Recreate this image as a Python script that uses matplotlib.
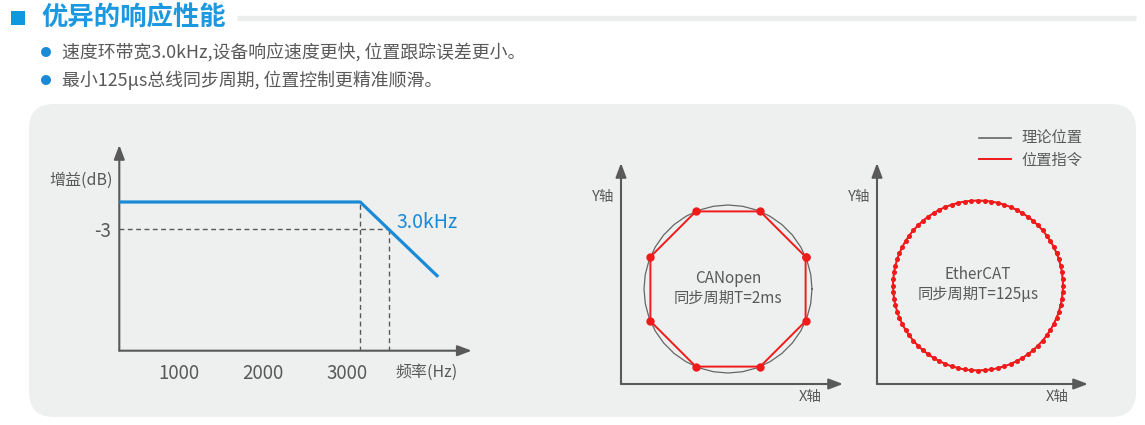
import numpy as np
import matplotlib
matplotlib.use('Agg')
import matplotlib.pyplot as plt
from matplotlib.patches import FancyBboxPatch, Rectangle, Circle
from matplotlib.lines import Line2D

plt.rcParams['font.family'] = ['Noto Sans CJK SC', 'DejaVu Sans']

# ---- data ----
title = '优异的响应性能'
bullets = ['速度环带宽3.0kHz,设备响应速度更快, 位置跟踪误差更小。',
           '最小125μs总线同步周期, 位置控制更精准顺滑。']

freq_hz = [287, 3160, 4090]     # bode magnitude (straight line approx.)
gain_db = [0, 0, -8.4]
cutoff_hz, cutoff_db = 3500, -3
freq_ticks = [1000, 2000, 3000]
freq_ticklabels = ['1000', '2000', '3000']

canopen_points = 8       # samples per revolution, T=2ms
ethercat_points = 80     # samples per revolution, T=125us
theory_segments = 36
start_angle_deg = 22.5
radius = 1.0

legend_labels = ['理论位置', '位置指令']

# ---- style ----
W, H = 1145, 425
GRAY = '#595959'
BLUE = '#1a8ad6'
TITLE_BLUE = '#1b98e0'
RED = '#f01a1a'
PANEL = '#eeefef'

fig = plt.figure(figsize=(W / 100, H / 100), dpi=100)
fig.patch.set_facecolor('white')

# background axes in pixel coordinates
bg = fig.add_axes([0, 0, 1, 1], zorder=0)
bg.set_xlim(0, W)
bg.set_ylim(H, 0)
bg.axis('off')

bg.add_patch(Rectangle((11, 11), 14, 14, color='#0f97df', lw=0))
bg.text(41, 18, title, fontsize=19, color=TITLE_BLUE, va='center', ha='left',
        fontweight='bold')
bg.plot([237, 1136], [17.5, 17.5], color='#eceeee', lw=3.8, solid_capstyle='butt')
for i, t in enumerate(bullets):
    y = 52 + 28 * i
    bg.add_patch(Circle((46, y), 5, color='#1a8ad6', lw=0))
    bg.text(62, y, t, fontsize=12.9, color=GRAY, va='center', ha='left')

bg.add_patch(FancyBboxPatch((29 + 25, 104 + 25), 1107 - 50, 313 - 50,
                            boxstyle='round,pad=25', color=PANEL, lw=0))


def px_axes(x0, y0, x1, y1):
    ax = fig.add_axes([x0 / W, 1 - y1 / H, (x1 - x0) / W, (y1 - y0) / H], zorder=2)
    ax.patch.set_visible(False)
    for s in ax.spines.values():
        s.set_visible(False)
    arrow = dict(arrowstyle='-|>,head_length=0.85,head_width=0.32', color=GRAY,
                 lw=1.5, shrinkA=0, shrinkB=0)
    ax.annotate('', xy=(0, 1), xytext=(0, 0), xycoords='axes fraction', arrowprops=arrow)
    ax.annotate('', xy=(1, 0), xytext=(0, 0), xycoords='axes fraction', arrowprops=arrow)
    return ax


# ---- left: frequency response ----
ax1 = px_axes(119.3, 145, 471.7, 350.7)
ax1.set_xlim(287, 4490)
ax1.set_ylim(-16.7, 6.4)
dash = (0, (3.5, 2.5))
ax1.plot(freq_hz, gain_db, color=BLUE, lw=2.3, solid_capstyle='butt', zorder=3)
ax1.plot([freq_hz[0], cutoff_hz], [cutoff_db, cutoff_db], color=GRAY, lw=1, ls=dash)
ax1.plot([freq_hz[1], freq_hz[1]], [-16.7, gain_db[1]], color=GRAY, lw=1, ls=dash)
ax1.plot([cutoff_hz, cutoff_hz], [-16.7, cutoff_db], color=GRAY, lw=1, ls=dash)
ax1.set_xticks(freq_ticks)
ax1.set_xticklabels(freq_ticklabels, fontsize=13.5, color=GRAY)
ax1.set_yticks([cutoff_db])
ax1.set_yticklabels(['-3'], fontsize=13.5, color=GRAY)
ax1.tick_params(axis='x', length=0, pad=9)
ax1.tick_params(axis='y', length=0, pad=6)
bg.text(427, 372, '频率(Hz)', fontsize=11.5, color=GRAY, ha='center', va='center')
bg.text(81, 180, '增益(dB)', fontsize=11.5, color=GRAY, ha='center', va='center')
bg.text(427, 222, '3.0kHz', fontsize=14, color=BLUE, ha='center', va='center')


# ---- circles ----
def circle_panel(x0, x1, cx, cy, r_px, n, name, period):
    ax = px_axes(x0, 163, x1, 384)
    ax.set_xlim((x0 - cx) / r_px, (x1 - cx) / r_px)
    ax.set_ylim((cy - 384) / r_px, (cy - 163) / r_px)
    ax.set_xticks([])
    ax.set_yticks([])
    th = np.linspace(0, 2 * np.pi, theory_segments + 1)
    ax.plot(radius * np.cos(th), radius * np.sin(th), color='#666666', lw=0.9)
    a = np.deg2rad(start_angle_deg) + np.linspace(0, 2 * np.pi, n + 1)
    if n > 20:
        ax.plot(radius * np.cos(a), radius * np.sin(a), color=RED, lw=1.4,
                marker='o', ms=2.6, zorder=3)
    else:
        ax.plot(radius * np.cos(a), radius * np.sin(a), color=RED, lw=1.4,
                marker='o', ms=5, zorder=3)
    ax.text(0, 0.13, name, fontsize=11, color=GRAY, ha='center', va='center')
    ax.text(0, -0.11, period, fontsize=11, color=GRAY, ha='center', va='center')
    return ax


ax2 = circle_panel(621, 843, 728, 289, 84, canopen_points, 'CANopen', '同步周期T=2ms')
ax3 = circle_panel(877, 1088, 978, 285.5, 85, ethercat_points, 'EtherCAT', '同步周期T=125μs')

for x in (603, 859):
    bg.text(x, 197, 'Y轴', fontsize=10.5, color=GRAY, ha='center', va='center')
for x in (810, 1057):
    bg.text(x, 397, 'X轴', fontsize=10.5, color=GRAY, ha='center', va='center')

handles = [Line2D([], [], color='#666666', lw=1.2), Line2D([], [], color=RED, lw=1.4)]
ax3.legend(handles, legend_labels, loc='upper left', bbox_to_anchor=(979 / W, 1 - 130 / H),
           bbox_transform=fig.transFigure, frameon=False, fontsize=11,
           labelcolor=GRAY, handlelength=2.1, handletextpad=0.7, labelspacing=0.3,
           borderpad=0, borderaxespad=0)

fig.savefig('out.png', dpi=100)
